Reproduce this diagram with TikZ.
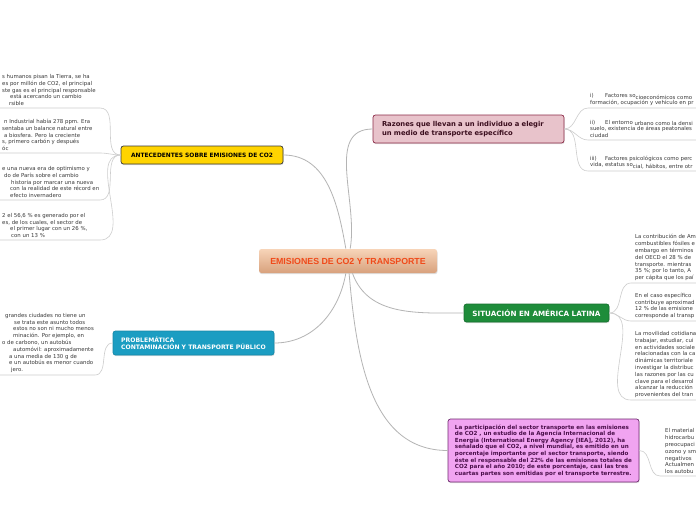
\documentclass[tikz,border=0pt]{standalone}
\usepackage{fontspec}
\setmainfont{DejaVu Sans}
\newfontfamily\topicfont{Liberation Sans}
\usetikzlibrary{shadows}

\definecolor{limbgray}{HTML}{B4B4B4}
\definecolor{twiggray}{HTML}{CDCDCD}
\definecolor{leaftext}{HTML}{3A3A3A}
\definecolor{ctrtop}{HTML}{F7D4B8}
\definecolor{ctrbot}{HTML}{D8A17C}
\definecolor{ctrtext}{HTML}{F04A1A}
\definecolor{antfill}{HTML}{FFD400}
\definecolor{antedge}{HTML}{3A3A3A}
\definecolor{prbfill}{HTML}{1B9DC2}
\definecolor{prbedge}{HTML}{1788A8}
\definecolor{razfill}{HTML}{E8C3CB}
\definecolor{razedge}{HTML}{8C2B48}
\definecolor{raztext}{HTML}{3B0E1E}
\definecolor{sitfill}{HTML}{1E8C3A}
\definecolor{sitedge}{HTML}{177030}
\definecolor{purfill}{HTML}{F1A4F1}
\definecolor{puredge}{HTML}{6F2C6F}
\definecolor{purtext}{HTML}{4A0E4A}

\begin{document}
\begin{tikzpicture}[x=1pt,y=1pt,
    leaf/.style={inner sep=2pt, align=left, text=leaftext, font=\fontsize{5.4}{6.8}\selectfont},
    limb/.style={draw=limbgray, line width=0.8pt},
    twig/.style={draw=twiggray, line width=0.6pt},
    branch/.style={rounded corners=2.5pt, line width=0.7pt,
        drop shadow={shadow xshift=0.5pt, shadow yshift=-1.2pt, opacity=0.25}}
]
    \useasboundingbox (0,0) rectangle (696,-520);
    \fill[white] (0,0) rectangle (696,-520);
    \clip (0,0) rectangle (696,-520);
    \coordinate (edgeL) at (-4,0);
    \coordinate (edgeR) at (700,0);

    % Central topic
    \node[branch, top color=ctrtop, bottom color=ctrbot, minimum width=178pt, minimum height=24pt,
        text=ctrtext, font=\topicfont\bfseries\fontsize{8.8}{10}\selectfont] (ctr) at (348,-261)
        {EMISIONES DE CO2 Y TRANSPORTE};

    % Main branches
    \node[branch, draw=antedge, fill=antfill, minimum width=162pt, minimum height=18pt,
        font=\bfseries\fontsize{5.9}{7}\selectfont] (ant) at (202,-155)
        {ANTECEDENTES SOBRE EMISIONES DE CO2};
    \node[branch, draw=prbedge, fill=prbfill, text=white, minimum width=161pt, minimum height=24pt,
        align=left, font=\bfseries\fontsize{6.1}{7.4}\selectfont] (prb) at (193.5,-343)
        {PROBLEMÁTICA\\CONTAMINACIÓN Y TRANSPORTE PÚBLICO};
    \node[branch, draw=razedge, fill=razfill, text=raztext, text width=173pt, inner xsep=9pt,
        minimum height=28pt, align=left, font=\bfseries\fontsize{6.8}{9}\selectfont] (raz) at (468.5,-129)
        {Razones que llevan a un individuo a elegir\\un medio de transporte específico};
    \node[branch, draw=sitedge, fill=sitfill, text=white, minimum width=145pt, minimum height=18pt,
        font=\bfseries\fontsize{7.2}{8}\selectfont] (sit) at (536.5,-313)
        {SITUACIÓN EN AMÉRICA LATINA};
    \node[branch, draw=puredge, fill=purfill, text=purtext, minimum width=191pt, minimum height=63pt,
        align=left, font=\bfseries\fontsize{5.6}{6.6}\selectfont] (pur) at (543.5,-450.5)
        {La participación del sector transporte en las emisiones\\
         de CO2 , un estudio de la Agencia Internacional de\\
         Energía (International Energy Agency [IEA], 2012), ha\\
         señalado que el CO2, a nivel mundial, es emitido en un\\
         porcentaje importante por el sector transporte, siendo\\
         éste el responsable del 22\% de las emisiones totales de\\
         CO2 para el año 2010; de este porcentaje, casi las tres\\
         cuartas partes son emitidas por el transporte terrestre.};

    \draw[limb] (ctr) to[out=100,in=0] (ant.east);
    \draw[limb] (ctr) to[out=80,in=180] (raz.west);
    \draw[limb] (ctr) to[out=260,in=0] (prb.east);
    \draw[limb] (ctr) to[out=290,in=180] (sit.west);
    \draw[limb] (ctr) to[out=275,in=180] (pur.west);

    % Antecedentes leaves
    \coordinate (a1) at (100,-108);
    \node[leaf, anchor=south west] (a1t) at (0,-108)
        {s humanos pisan la Tierra, se ha\\
         es por millón de CO2, el principal\\
         ste gas es el principal responsable\\
         \hspace*{8pt}está acercando un cambio\\
         \hspace*{7pt}rsible};
    \coordinate (a2) at (100,-153);
    \node[leaf, anchor=south west] (a2t) at (0,-153)
        {\hspace*{2pt}n Industrial había 278 ppm. Era\\
         sentaba un balance natural entre\\
         \hspace*{2pt}a biosfera. Pero la creciente\\
         s, primero carbón y después\\
         óc};
    \coordinate (a3) at (100,-200);
    \node[leaf, anchor=south west] (a3t) at (0,-200)
        {e una nueva era de optimismo y\\
         \hspace*{2pt}do de París sobre el cambio\\
         \hspace*{9pt}historia por marcar una nueva\\
         \hspace*{8pt}con la realidad de este récord en\\
         \hspace*{8pt}efecto invernadero};
    \coordinate (a4) at (100,-240);
    \node[leaf, anchor=south west] (a4t) at (0,-240)
        {2 el 56,6 \% es generado por el\\
         es, de los cuales, el sector de\\
         \hspace*{8pt}el primer lugar con un 26 \%,\\
         \hspace*{9pt}con un 13 \%};
    \foreach \k in {a1,a2,a3,a4}
        \draw[twig] (ant.west) to[out=180,in=0] (\k) -- (\k -| edgeL);

    % Problematica leaf
    \coordinate (p1) at (95,-375);
    \node[leaf, anchor=south west] (p1t) at (0,-375)
        {\hspace*{3pt}grandes ciudades no tiene un\\
         \hspace*{12pt}se trata este asunto todos\\
         \hspace*{11pt}estos no son ni mucho menos\\
         \hspace*{11pt}minación. Por ejemplo, en\\
         o de carbono, un autobús\\
         \hspace*{11pt}automóvil: aproximadamente\\
         \hspace*{7pt}a una media de 130 g de\\
         \hspace*{7pt}e un autobús es menor cuando\\
         \hspace*{9pt}jero.};
    \draw[twig] (prb.west) to[out=180,in=0] (p1) -- (p1 -| edgeL);

    % Razones leaves
    \coordinate (r1) at (588,-108);
    \node[leaf, anchor=south west] (r1t) at (588,-108)
        {\makebox[15pt][l]{i)}Factores so\raisebox{-1.2pt}{cioeconómicos como}\\
         formación, ocupación y vehículo en pr};
    \coordinate (r2) at (588,-140);
    \node[leaf, anchor=south west] (r2t) at (588,-140)
        {\makebox[15pt][l]{ii)}El entorno \raisebox{-1.2pt}{urbano como la densi}\\
         suelo, existencia de áreas peatonales\\
         ciudad};
    \coordinate (r3) at (588,-171);
    \node[leaf, anchor=south west] (r3t) at (588,-171)
        {\makebox[15pt][l]{iii)}Factores psicológicos como perc\\
         vida, estatus so\raisebox{-1.2pt}{cial, hábitos, entre otr}};
    \foreach \k in {r1,r2,r3}
        \draw[twig] (raz.east) to[out=0,in=180] (\k) -- (\k -| edgeR);

    % Situacion leaves
    \coordinate (s1) at (631,-283);
    \node[leaf, anchor=south west] (s1t) at (633,-283)
        {La contribución de Am\\
         combustibles fósiles e\\
         embargo en términos\\
         del OECD el 28 \% de\\
         transporte. mientras\\
         35 \%; por lo tanto, A\\
         per cápita que los paí};
    \coordinate (s2) at (631,-321);
    \node[leaf, anchor=south west] (s2t) at (633,-321)
        {En el caso específico\\
         contribuye aproximad\\
         12 \% de las emisione\\
         corresponde al transp};
    \coordinate (s3) at (631,-400);
    \node[leaf, anchor=south west] (s3t) at (633,-400)
        {La movilidad cotidiana\\
         trabajar, estudiar, cui\\
         en actividades sociale\\
         relacionadas con la ca\\
         dinámicas territoriale\\
         investigar la distribuc\\
         las razones por las cu\\
         clave para el desarrol\\
         alcanzar la reducción\\
         provenientes del tran};
    \foreach \k in {s1,s2,s3}
        \draw[twig] (sit.east) to[out=0,in=180] (\k) -- (\k -| edgeR);

    % Purple leaf
    \coordinate (u1) at (660,-476);
    \node[leaf, anchor=south west] (u1t) at (663,-476)
        {El material\\
         hidrocarbu\\
         preocupaci\\
         ozono y sm\\
         negativos\\
         Actualmen\\
         los autobu};
    \draw[twig] (pur.east) to[out=0,in=180] (u1) -- (u1 -| edgeR);
\end{tikzpicture}
\end{document}
